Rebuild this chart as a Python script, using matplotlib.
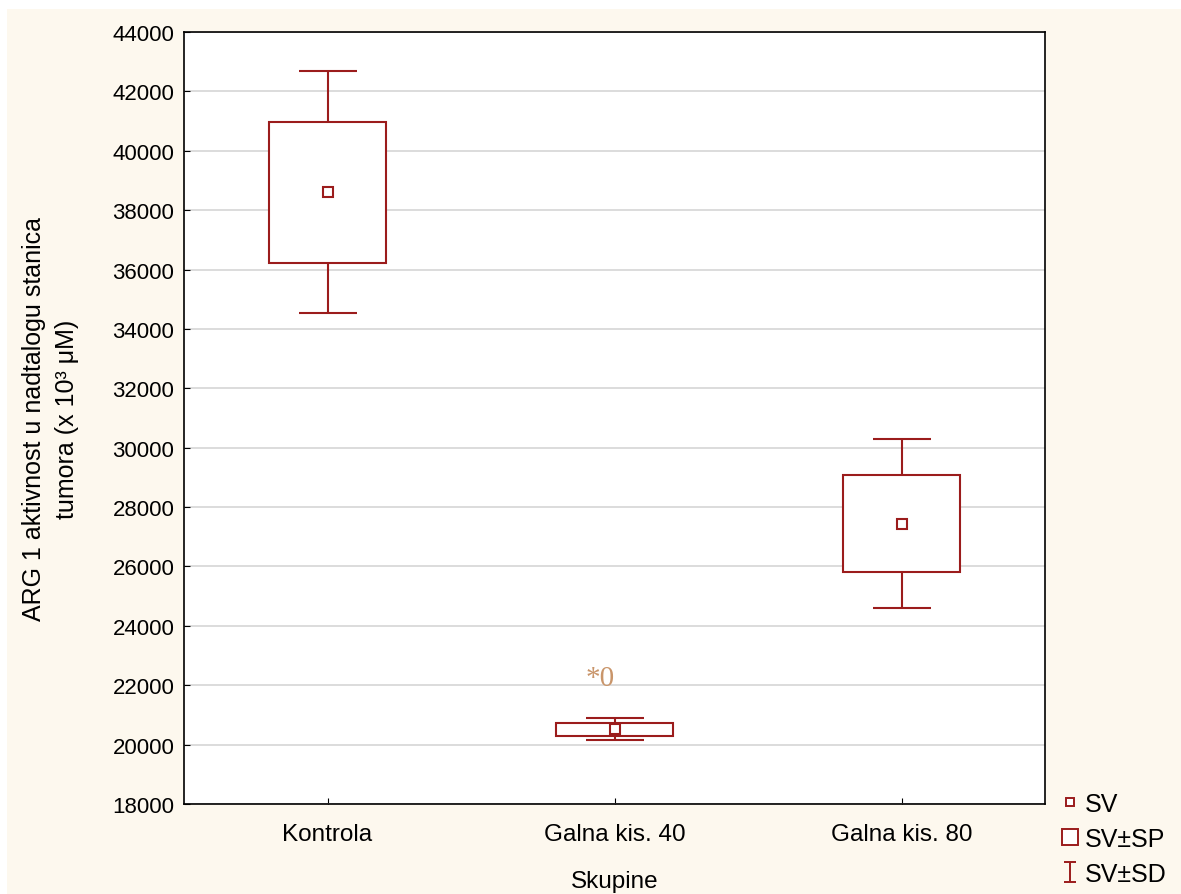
import matplotlib.pyplot as plt
from matplotlib.lines import Line2D
from matplotlib.patches import Rectangle
from matplotlib.path import Path

plt.rcParams['font.family'] = ['Liberation Sans', 'DejaVu Sans']

# values
groups = ['Kontrola', 'Galna kis. 40', 'Galna kis. 80']
means = [38600, 20520, 27440]
se = [2375, 219, 1633]      # SV±SP box half-height
sd = [4080, 370, 2840]      # SV±SD whisker half-length

red = '#9b1c1c'
cream = '#fdf8ee'

fig = plt.figure(figsize=(11.81, 8.95), dpi=100, facecolor='white')
fig.patches.append(Rectangle((7 / 1181, 0), 1, 1 - 10 / 895, transform=fig.transFigure,
                             facecolor=cream, edgecolor='none', zorder=-10))
ax = fig.add_axes([184 / 1181, 1 - 805 / 895, (1045 - 184) / 1181, (805 - 33) / 895])
ax.set_facecolor('white')

x = list(range(len(groups)))

# whiskers (SD)
ax.errorbar(x, means, yerr=sd, fmt='none', ecolor=red, elinewidth=1.5,
            capsize=21, capthick=1.5, zorder=2)
# boxes (SE)
ax.bar(x, [2 * s for s in se], bottom=[m - s for m, s in zip(means, se)], width=0.41,
       facecolor='white', edgecolor=red, linewidth=1.5, zorder=3)
# means
ax.plot(x, means, ls='none', marker='s', ms=7, mfc='white', mec=red, mew=1.5, zorder=4)

ax.text(1 - 0.05, 21800, '*0', color='#c9956a', fontsize=21, family='Liberation Serif',
        ha='center', va='bottom')

ax.set_xlim(-0.5, 2.5)
ax.set_ylim(18000, 44000)
ax.set_yticks(range(18000, 44001, 2000))
ax.set_xticks(x)
ax.set_xticklabels(groups, fontsize=17.5)
ax.tick_params(axis='y', labelsize=16, pad=7)
ax.tick_params(axis='x', pad=14)
ax.tick_params(direction='in', length=4)
ax.yaxis.grid(True, color='#d9d9d9', linewidth=1.3)
ax.set_axisbelow(True)
for sp in ax.spines.values():
    sp.set_linewidth(1.2)

ax.set_xlabel('Skupine', fontsize=17.5, labelpad=18)
ax.set_ylabel('ARG 1 aktivnost u nadtalogu stanica\ntumora (x 10³ μM)', fontsize=18,
              labelpad=24, linespacing=1.45)

# I-shaped marker for the SD entry
ibeam = Path([(-0.6, -1), (0.6, -1), (0, -1), (0, 1), (-0.6, 1), (0.6, 1)],
             [Path.MOVETO, Path.LINETO, Path.MOVETO, Path.LINETO, Path.MOVETO, Path.LINETO])
handles = [
    Line2D([], [], ls='none', marker='s', ms=6, mfc='white', mec=red, mew=1.4),
    Line2D([], [], ls='none', marker='s', ms=12, mfc='white', mec=red, mew=1.4),
    Line2D([], [], ls='none', marker=ibeam, ms=14, mfc='none', mec=red, mew=1.4),
]
fig.legend(handles, ['SV', 'SV±SP', 'SV±SD'], loc='upper left',
           bbox_to_anchor=(1040 / 1181, 1 - 775 / 895), frameon=False, fontsize=18,
           handletextpad=0.1, labelspacing=0.45, handlelength=1.0, borderpad=0.2)

fig.savefig('out.png', dpi=100, facecolor=fig.get_facecolor())
